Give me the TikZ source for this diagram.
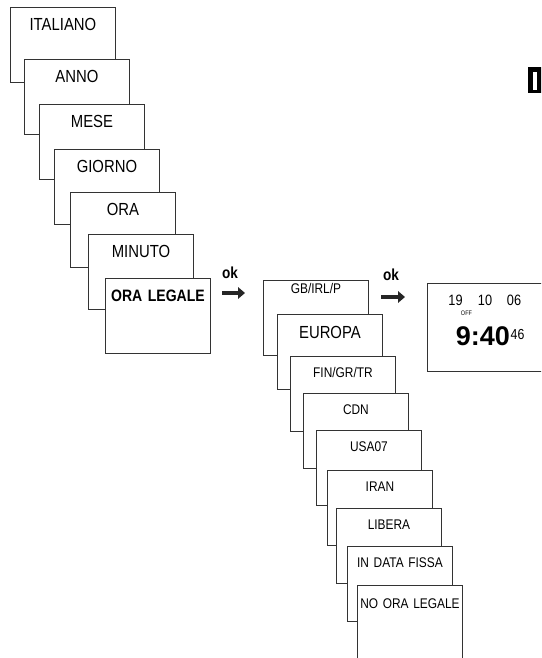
\documentclass[tikz,border=0pt]{standalone}
\usepackage{fontspec}
\setmainfont{Liberation Sans}[FakeStretch=0.85,WordSpace=0.75]
\newfontfamily\dispfont{Liberation Sans}
\usetikzlibrary{arrows.meta}

\begin{document}
\begin{tikzpicture}[x=1pt,y=-1pt,>={Triangle[length=7pt,width=11.5pt]},
  screen/.style={draw=black!80,line width=0.9pt,fill=white,anchor=north west,
    inner sep=0pt,text width=105pt,align=center,text height=23pt,text depth=52pt,
    font=\fontsize{17.5}{20}\selectfont},
  smallscreen/.style={screen,font=\fontsize{14}{16}\selectfont,
    text height=21pt,text depth=54pt},
  oklabel/.style={anchor=base,inner sep=0pt,font=\bfseries\fontsize{16}{18}\selectfont},
  okarrow/.style={->,line width=4.6pt,black!85},
  digit/.style={anchor=base,inner sep=0pt}]
\useasboundingbox (0,0) rectangle (541,658);
\clip (0,0) rectangle (541,658);
% menu stack
\node[screen] (it) at (10,7) {ITALIANO};
\node[screen] (an) at (24,59) {ANNO};
\node[screen] (me) at (39,104) {MESE};
\node[screen] (gi) at (54,149) {GIORNO};
\node[screen] (ora) at (70,192) {ORA};
\node[screen] (mi) at (88,234) {MINUTO};
\node[screen,font=\bfseries\fontsize{16.5}{19}\selectfont] (ol) at (105,278) {ORA LEGALE};
% first ok
\node[oklabel] (ok1) at (230,278) {ok};
\coordinate (a1) at (222,293);
\coordinate (b1) at (245,293);
\draw[okarrow] (a1) -- (b1);
% summer time choices
\node[smallscreen,text height=13pt,text depth=62pt] (gb) at (263,280) {GB/IRL/P};
\node[screen,text height=24pt,text depth=51pt] (eu) at (277,314) {EUROPA};
\node[smallscreen] (fin) at (290,356) {FIN/GR/TR};
\node[smallscreen] (cdn) at (303,393) {CDN};
\node[smallscreen] (usa) at (316,430) {USA07};
\node[smallscreen] (ir) at (327,470) {IRAN};
\node[smallscreen] (lib) at (336,508) {LIBERA};
\node[smallscreen] (fix) at (347,546) {IN DATA FISSA};
\node[smallscreen,text height=23pt,text depth=52pt] (no) at (357,585) {NO ORA LEGALE};
% second ok
\node[oklabel] (ok2) at (391,280) {ok};
\coordinate (a2) at (381,297);
\coordinate (b2) at (405,297);
\draw[okarrow] (a2) -- (b2);
% display
\node[draw=black!80,line width=0.9pt,anchor=north west,inner sep=0pt,
  minimum width=140pt,minimum height=88pt] (disp) at (427,283) {};
\node[digit,font=\fontsize{15}{17}\selectfont] (yy) at (455.5,305) {19};
\node[digit,font=\fontsize{15}{17}\selectfont] (mm) at (485,305) {10};
\node[digit,font=\fontsize{15}{17}\selectfont] (dd) at (514,305) {06};
\node[digit,font=\fontsize{6.5}{7}\selectfont] (off) at (466.5,315.5) {OFF};
\node[digit,anchor=base east,font=\dispfont\bfseries\fontsize{27}{29}\selectfont] (time) at (510,345) {9:40};
\node[digit,anchor=base west,font=\fontsize{14.5}{16}\selectfont] (sec) at (510.5,339.5) {46};
% tab mark
\fill (528,67) rectangle (545,93);
\fill[white] (533,72) rectangle (537,90);
\end{tikzpicture}
\end{document}
